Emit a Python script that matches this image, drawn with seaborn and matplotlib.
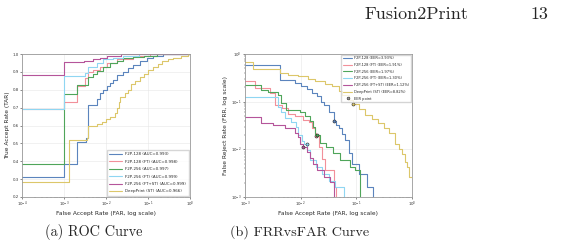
import numpy as np
import matplotlib
matplotlib.use('Agg')
import matplotlib.pyplot as plt
import seaborn as sns

# ---------- data ----------
names = ['F2P-128', 'F2P-128 (FT)', 'F2P-256', 'F2P-256 (FT)', 'F2P-256 (FT+ST)', 'DeepPrint (ST)']
aucs = [0.993, 0.998, 0.997, 0.999, 0.999, 0.966]
eers = [3.93, 1.91, 1.97, 1.30, 1.12, 8.82]
colors = ['#5b84bd', '#f2909a', '#4fa55a', '#8fd6f2', '#b5559a', '#dcc76a']

# ROC (FAR, TAR) step points
roc_far = [
    [1e-4, 1e-3, 2.0e-3, 3.3e-3, 3.8e-3, 6.1e-3, 7.3e-3, 8.7e-3, 1.05e-2, 1.25e-2, 1.5e-2, 1.8e-2,
     2.6e-2, 3.4e-2, 4.5e-2, 6.5e-2, 9.3e-2, 1.33e-1, 2.3e-1, 1.0],
    [1e-4, 1e-3, 2.0e-3, 3.2e-3, 3.8e-3, 5e-3, 7.3e-3, 1.05e-2, 1.8e-2, 4.5e-2, 1.1e-1, 1.0],
    [1e-4, 1e-3, 2.0e-3, 3.8e-3, 5e-3, 6.1e-3, 8.7e-3, 1.25e-2, 1.8e-2, 2.6e-2, 4.5e-2, 8e-2, 1.6e-1, 1.0],
    [1e-4, 1e-3, 3.2e-3, 3.8e-3, 6.1e-3, 8.7e-3, 1.5e-2, 2.6e-2, 6e-2, 1.0],
    [1e-4, 1e-3, 3e-3, 5e-3, 7.3e-3, 1.05e-2, 2.3e-2, 1.0],
    [1e-4, 1.3e-3, 3.6e-3, 3.8e-3, 6e-3, 8e-3, 1e-2, 1.25e-2, 1.6e-2, 1.8e-2, 2e-2, 2.2e-2, 2.8e-2,
     3.4e-2, 4e-2, 5e-2, 6.5e-2, 8e-2, 1e-1, 1.3e-1, 1.7e-1, 2.2e-1, 3e-1, 4e-1, 6e-1, 9e-1, 1.0],
]
roc_tar = [
    [0.31, 0.385, 0.51, 0.53, 0.715, 0.75, 0.78, 0.80, 0.82, 0.84, 0.855, 0.885,
     0.90, 0.92, 0.94, 0.96, 0.98, 0.99, 1.0, 1.0],
    [0.695, 0.73, 0.82, 0.865, 0.90, 0.91, 0.93, 0.95, 0.97, 0.99, 1.0, 1.0],
    [0.385, 0.777, 0.825, 0.87, 0.89, 0.905, 0.93, 0.95, 0.96, 0.975, 0.985, 0.99, 1.0, 1.0],
    [0.69, 0.875, 0.895, 0.93, 0.95, 0.97, 0.98, 0.99, 1.0, 1.0],
    [0.883, 0.955, 0.96, 0.97, 0.98, 0.99, 1.0, 1.0],
    [0.285, 0.52, 0.53, 0.60, 0.61, 0.62, 0.635, 0.65, 0.67, 0.70, 0.73, 0.76, 0.78,
     0.80, 0.83, 0.85, 0.87, 0.89, 0.91, 0.93, 0.945, 0.96, 0.97, 0.98, 0.99, 1.0, 1.0],
]

# FRR vs FAR step points (0 = no rejections left)
det_far = [
    [1e-3, 4.3e-3, 7.9e-3, 1.0e-2, 1.29e-2, 1.6e-2, 1.95e-2, 2.3e-2, 2.6e-2, 3.2e-2, 3.9e-2, 4.4e-2,
     4.8e-2, 5.5e-2, 6.3e-2, 7.3e-2, 8.4e-2, 1.1e-1, 1.56e-1, 2.0e-1],
    [1e-3, 1.5e-3, 2.8e-3, 3.5e-3, 4.6e-3, 6e-3, 8e-3, 1.1e-2, 1.4e-2, 1.6e-2, 1.8e-2, 1.91e-2,
     2.1e-2, 2.4e-2, 2.7e-2, 3.9e-2, 4.3e-2],
    [1e-3, 1.9e-3, 2.6e-3, 3.9e-3, 4.5e-3, 5.5e-3, 7.5e-3, 9.8e-3, 1.2e-2, 1.45e-2, 1.68e-2, 1.8e-2,
     2.2e-2, 2.9e-2, 3.8e-2, 5e-2, 7.8e-2, 9.5e-2, 1.17e-1],
    [1e-3, 3.9e-3, 4.5e-3, 5.2e-3, 6.7e-3, 8.3e-3, 9e-3, 1.05e-2, 1.13e-2, 1.3e-2, 1.5e-2, 1.9e-2,
     2.4e-2, 3.2e-2, 4.2e-2, 5.9e-2],
    [1e-3, 1.9e-3, 3.2e-3, 5.2e-3, 7.9e-3, 9.1e-3, 9.6e-3, 1.1e-2, 1.3e-2, 1.5e-2, 1.7e-2, 1.95e-2,
     2.6e-2, 3.4e-2, 4e-2],
    [1e-3, 1.41e-3, 4.3e-3, 6e-3, 9.1e-3, 1.38e-2, 1.8e-2, 2.77e-2, 3.6e-2, 4.8e-2, 5.5e-2, 7.3e-2,
     8.8e-2, 1.1e-1, 1.45e-1, 1.9e-1, 2.5e-1, 3.1e-1, 3.8e-1, 5.0e-1, 5.8e-1, 6.6e-1, 7.6e-1,
     8.2e-1, 8.8e-1, 1.0],
]
det_frr = [
    [0.60, 0.29, 0.25, 0.21, 0.18, 0.15, 0.13, 0.10, 0.085, 0.062, 0.039, 0.032,
     0.028, 0.021, 0.016, 0.0082, 0.005, 0.003, 0.0016, 0],
    [0.265, 0.19, 0.15, 0.085, 0.075, 0.055, 0.05, 0.042, 0.037, 0.028, 0.022, 0.019,
     0.011, 0.0062, 0.0037, 0.0016, 0],
    [0.225, 0.175, 0.16, 0.14, 0.095, 0.068, 0.066, 0.06, 0.05, 0.04, 0.03, 0.0197,
     0.0135, 0.011, 0.0083, 0.006, 0.0042, 0.0036, 0],
    [0.128, 0.079, 0.062, 0.045, 0.038, 0.030, 0.02, 0.015, 0.013, 0.0096, 0.006, 0.0043,
     0.003, 0.0022, 0.0016, 0],
    [0.047, 0.036, 0.032, 0.028, 0.022, 0.018, 0.013, 0.0112, 0.0088, 0.0065, 0.005, 0.0036,
     0.0026, 0.0021, 0],
    [0.69, 0.48, 0.40, 0.36, 0.34, 0.30, 0.27, 0.23, 0.21, 0.17, 0.14, 0.11,
     0.088, 0.07, 0.053, 0.043, 0.035, 0.028, 0.022, 0.013, 0.010, 0.008, 0.0055,
     0.0043, 0.0026, 0.0026],
]

# ---------- style ----------
sns.set_style('whitegrid')
plt.rcParams['font.family'] = ['DejaVu Sans']
plt.rcParams['grid.color'] = '#e6e6e6'
plt.rcParams['grid.linewidth'] = 0.4

fig = plt.figure(figsize=(5.64, 2.46), dpi=100)
ax1 = fig.add_axes([22 / 564, 49 / 246, 168 / 564, 143 / 246])
ax2 = fig.add_axes([245 / 564, 49 / 246, 167 / 564, 143 / 246])

for ax in (ax1, ax2):
    ax.set_xscale('log')
    for s in ax.spines.values():
        s.set_color('#999999')
        s.set_linewidth(0.6)
    ax.tick_params(which='both', labelsize=2.8, pad=1, colors='#333333',
                   bottom=True, left=True, length=1.2, width=0.4)
    ax.tick_params(which='minor', length=0.8, width=0.3)

# ----- (a) ROC -----
for i in range(len(names)):
    sns.lineplot(x=roc_far[i], y=roc_tar[i], ax=ax1, color=colors[i], lw=0.8,
                 drawstyle='steps-post', estimator=None, sort=False,
                 label=f'{names[i]} (AUC={aucs[i]:.3f})')
ax1.set_xlim(1e-4, 1)
ax1.set_ylim(0.2, 1.0)
ax1.set_yticks(np.arange(0.2, 1.01, 0.1))
ax1.set_xlabel('False Accept Rate (FAR, log scale)', fontsize=4.2, labelpad=1)
ax1.set_ylabel('True Accept Rate (TAR)', fontsize=4.2, labelpad=2)
ax1.legend(loc='lower right', fontsize=2.9, frameon=True, handlelength=3.3,
           borderpad=0.6, labelspacing=0.85, edgecolor='#cccccc', fancybox=False,
           borderaxespad=0.3)

# ----- (b) FRR vs FAR -----
ax2.set_yscale('log')
for i in range(len(names)):
    frr = np.maximum(np.array(det_frr[i], dtype=float), 1e-6)
    sns.lineplot(x=det_far[i], y=frr, ax=ax2, color=colors[i], lw=0.8,
                 drawstyle='steps-post', estimator=None, sort=False,
                 label=f'{names[i]} (EER={eers[i]:.2f}%)')
    e = eers[i] / 100
    ax2.plot([e], [e], 'o', ms=2.2, color=colors[i], mec='#222222', mew=0.4)
ax2.plot([], [], 'o', ms=2.0, color='#999999', mec='#222222', mew=0.4, ls='none',
         label='EER point')
ax2.set_xlim(1e-3, 1)
ax2.set_ylim(1e-3, 1)
ax2.set_xlabel('False Accept Rate (FAR, log scale)', fontsize=4.2, labelpad=1)
ax2.set_ylabel('False Reject Rate (FRR, log scale)', fontsize=4.2, labelpad=2)
ax2.legend(loc='upper right', fontsize=2.6, frameon=True, handlelength=2.6,
           borderpad=0.5, labelspacing=0.75, edgecolor='#cccccc', fancybox=False,
           borderaxespad=0.15, handletextpad=0.6)

# ----- page header and captions -----
serif = ['cmr10', 'DejaVu Serif']
fig.text(416 / 564, 1 - 14 / 246, 'Fusion2Print', family=serif, fontsize=13,
         ha='center', va='center')
fig.text(539 / 564, 1 - 14 / 246, '13', family=serif, fontsize=13,
         ha='center', va='center')
fig.text(94 / 564, 1 - 232 / 246, '(a) ROC Curve', family=serif, fontsize=10.3,
         ha='center', va='center')
fig.text(300 / 564, 1 - 232 / 246, '(b) FRRvsFAR Curve', family=serif, fontsize=10.2,
         ha='center', va='center')

fig.savefig('out.png', dpi=100)
